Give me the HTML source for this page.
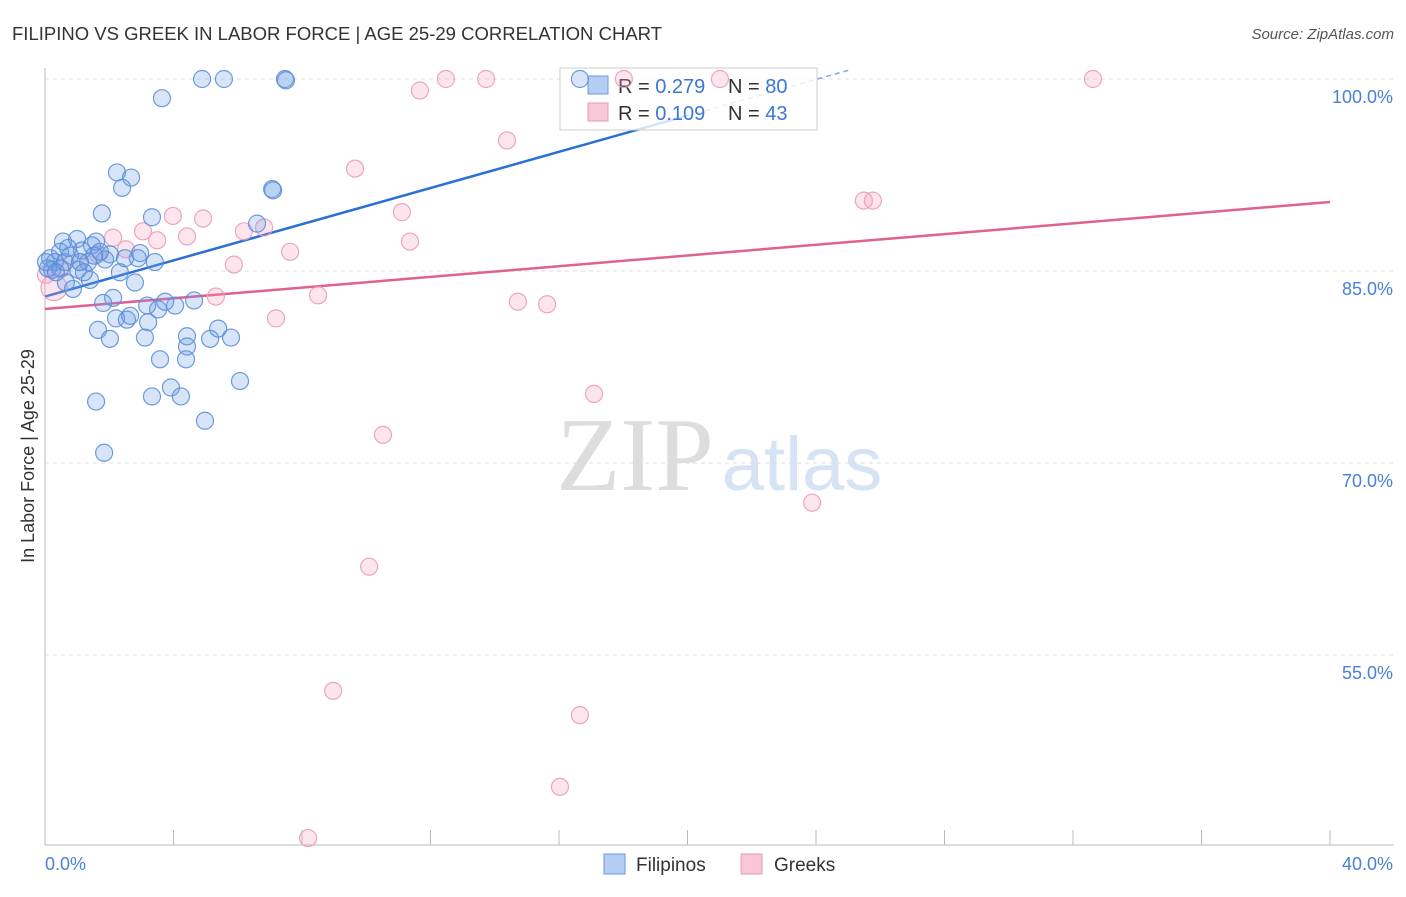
<!DOCTYPE html>
<html><head><meta charset="utf-8"><style>
body{margin:0;background:#fff;font-family:"Liberation Sans",sans-serif}
</style></head><body>
<svg width="1406" height="892" xmlns="http://www.w3.org/2000/svg">
<text x="12" y="40" font-size="18.5" fill="#333" textLength="650">FILIPINO VS GREEK IN LABOR FORCE | AGE 25-29 CORRELATION CHART</text>
<text x="1394" y="39" font-size="15" fill="#555" font-style="italic" text-anchor="end">Source: ZipAtlas.com</text>
<text x="0" y="0" transform="translate(34,456) rotate(-90)" font-size="18" fill="#333" text-anchor="middle">In Labor Force | Age 25-29</text>
<text x="635" y="490" font-size="105" fill="#ddd" font-family="Liberation Serif,serif" text-anchor="middle">ZIP</text>
<text x="802" y="490" font-size="76" fill="#d5e3f5" text-anchor="middle">atlas</text>
<g id="grid"></g><g id="lines"></g>
<g>
<rect x="560" y="68" width="257" height="62" fill="#fff" fill-opacity="0.8" stroke="#ccc"/>
<rect x="588" y="76" width="20" height="18" fill="#b5cdf2" stroke="#6a9ae0"/>
<rect x="588" y="103" width="20" height="18" fill="#f9c6d6" stroke="#ea9ab6"/>
<text x="618" y="93" font-size="20" fill="#333">R = <tspan fill="#3a77d6">0.279</tspan></text>
<text x="728" y="93" font-size="20" fill="#333">N = <tspan fill="#3a77d6">80</tspan></text>
<text x="618" y="120" font-size="20" fill="#333">R = <tspan fill="#3a77d6">0.109</tspan></text>
<text x="728" y="120" font-size="20" fill="#333">N = <tspan fill="#3a77d6">43</tspan></text>
</g>
<g id="pts"></g>
<g>
<rect x="604" y="854" width="21" height="20" fill="#b5cdf2" stroke="#6a9ae0"/>
<text x="636" y="871" font-size="19" fill="#333">Filipinos</text>
<rect x="741" y="854" width="21" height="20" fill="#f9c6d6" stroke="#ea9ab6"/>
<text x="774" y="871" font-size="19" fill="#333">Greeks</text>
</g>
</svg>
<script>
const yTicks=[100,85,70,55];
const xTicks=[0,40];
const blueX=[4.89,5.57,7.47,7.50,16.65,3.64,2.24,2.68,2.40,7.07,7.10,1.77,3.33,6.60,0.56,1.00,1.59,1.46,1.15,0.47,0.78,0.16,0.31,2.02,2.96,3.42,1.34,1.87,1.03,0.22,0.47,2.33,1.40,0.65,0.87,2.80,2.12,1.81,3.18,3.52,4.05,3.74,4.64,2.21,2.55,2.65,3.21,1.65,2.02,3.11,4.42,5.14,5.39,5.79,4.42,3.58,4.39,6.07,3.92,3.33,4.23,1.59,4.98,1.84,0.03,0.09,0.34,0.62,1.09,1.71,2.49,1.21,2.89,0.72,1.53];
const blueY=[100,100,100,99.9,100,98.5,92.7,92.3,91.5,91.4,91.3,89.5,89.2,88.7,87.3,87.5,87.3,87.0,86.6,86.5,86.2,86.0,85.7,86.3,86.4,85.7,85.7,85.9,85.1,85.1,85.2,84.9,84.3,84.1,83.6,84.1,82.9,82.5,82.3,82.0,82.3,82.6,82.7,81.3,81.2,81.5,81.0,80.4,79.7,79.8,79.9,79.7,80.5,79.8,79.1,78.1,78.1,76.4,75.9,75.2,75.2,74.8,73.3,70.8,85.7,85.2,84.9,85.7,85.7,86.5,86.0,84.9,86.0,86.8,86.2];
const pinkX=[0.03,0.28,11.67,12.48,13.73,32.62,18.02,21.01,14.38,9.65,11.11,3.98,4.92,3.05,4.42,3.49,6.19,6.82,11.36,2.12,2.52,7.63,5.88,8.50,5.32,7.19,14.72,15.63,25.49,25.77,17.09,10.52,23.88,10.09,8.97,16.65,16.03,8.19,1.65,1.09,0.53];
const pinkY=[84.7,83.7,99.1,100,100,100,100,100,95.2,93.0,89.6,89.3,89.1,88.1,87.7,87.4,88.1,88.4,87.3,87.6,86.7,86.5,85.5,83.1,83.0,81.3,82.6,82.4,90.5,90.5,75.4,72.2,66.9,61.9,52.2,50.3,44.7,40.7,86.3,85.7,85.2];
const blueTrend=[83.0,0.707];
const pinkTrend=[82.03,0.209];
const X=v=>45+v*32.125, Y=v=>79+(100-v)*12.8;
const NS='http://www.w3.org/2000/svg';
function mk(t,a,p){const e=document.createElementNS(NS,t);for(const k in a)e.setAttribute(k,a[k]);p.appendChild(e);return e;}
const g=document.getElementById('grid');
mk('line',{x1:45,y1:68,x2:45,y2:845,stroke:'#bbb'},g);
mk('line',{x1:45,y1:845,x2:1394,y2:845,stroke:'#bbb'},g);
for(let i=1;i<=10;i++){const t=mk('line',{x1:X(i*4),y1:830,x2:X(i*4),y2:845,stroke:'#bbb'},g);

}
yTicks.forEach(v=>{const l=mk('line',{x1:45,y1:Y(v),x2:1394,y2:Y(v),stroke:'#ddd','stroke-dasharray':'4,4'},g);


const t=mk('text',{x:1393,y:Y(v)+24,'font-size':18,fill:'#4a80d6','text-anchor':'end'},g);t.textContent=v.toFixed(1)+'%';

});
xTicks.forEach((v,i)=>{const t=mk('text',{x:i?1393:45,y:870,'font-size':18,fill:'#4a80d6','text-anchor':i?'end':'start'},g);t.textContent=v.toFixed(1)+'%';

});
const p=document.getElementById('pts');
pinkX.forEach((x,i)=>{const c=mk('circle',{cx:X(x),cy:Y(pinkY[i]),r:i==1?13:8.5,fill:'rgba(244,160,190,0.3)',stroke:'#eb9cb8','stroke-width':1.2,opacity:0.9},p);

});
blueX.forEach((x,i)=>{const c=mk('circle',{cx:X(x),cy:Y(blueY[i]),r:8.5,fill:'rgba(110,160,230,0.3)',stroke:'#5b8fd9','stroke-width':1.2,opacity:0.9},p);

});
const L=document.getElementById('lines');
const bf=v=>blueTrend[0]+blueTrend[1]*v, pf=v=>pinkTrend[0]+pinkTrend[1]*v;
const b1=mk('line',{x1:X(0),y1:Y(bf(0)),x2:X(20),y2:Y(bf(20)),stroke:'#2a6fd6','stroke-width':2.5},L);


const b2=mk('line',{x1:X(20),y1:Y(bf(20)),x2:X(25),y2:Y(bf(25)),stroke:'#2a6fd6','stroke-width':1.5,'stroke-dasharray':'5,4',opacity:0.6},L);


const pl=mk('line',{x1:X(0),y1:Y(pf(0)),x2:X(40),y2:Y(pf(40)),stroke:'#e0608f','stroke-width':2.5},L);


</script>
</body></html>
